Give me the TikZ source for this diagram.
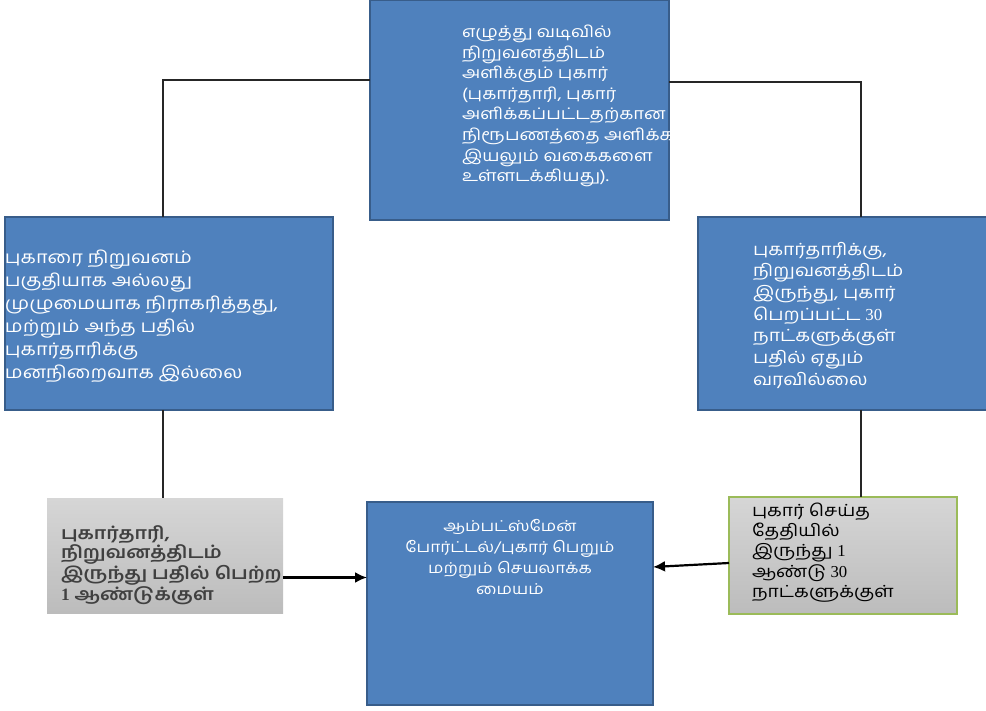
\documentclass[tikz,border=0pt]{standalone}
\usepackage{fontspec}
\usetikzlibrary{arrows.meta,calc}
\newfontfamily\ta[Script=Tamil,FakeStretch=1.15]{Hind Madurai}
\newfontfamily\ser{Liberation Serif}
\definecolor{boxblue}{HTML}{4F81BD}
\definecolor{boxedge}{HTML}{385D8A}
\definecolor{graytop}{HTML}{D6D6D6}
\definecolor{graybot}{HTML}{BCBCBC}
\definecolor{greenedge}{HTML}{9BBB59}
\definecolor{darktext}{HTML}{404040}
\tikzset{
  bluebox/.style={draw=boxedge, line width=1.5pt, fill=boxblue, inner sep=0pt, outer sep=0pt, anchor=north west},
  graybox/.style={top color=graytop, bottom color=graybot, inner sep=0pt, outer sep=0pt, anchor=north west},
  txt/.style={inner sep=0pt, outer sep=0pt, align=left, anchor=north west},
  conn/.style={line width=1.3pt, draw=black!85},
  arr/.style={line width=2.2pt, -{Latex[length=12pt,width=11pt]}},
}
\begin{document}
\begin{tikzpicture}[x=1pt,y=-1pt]
\useasboundingbox (0,0) rectangle (986,711);
% boxes
\node[bluebox, minimum width=299pt, minimum height=220pt] (top) at (370,0) {};
\node[bluebox, minimum width=328pt, minimum height=193pt] (lbox) at (5,217) {};
\node[bluebox, minimum width=300pt, minimum height=193pt] (rbox) at (698,217) {};
\node[graybox, minimum width=236pt, minimum height=115pt] (gl) at (47,498) {};
\node[bluebox, minimum width=286pt, minimum height=203pt] (cb) at (367,502) {};
\node[graybox, draw=greenedge, line width=1.3pt, minimum width=228pt, minimum height=117pt] (rg) at (729,497) {};
% texts
\begin{scope}
\clip (top.north west) rectangle (top.south east);
\node[txt, text=white, font={\ta\fontsize{16}{20.6}\selectfont}] (ttop) at (462,25) {எழுத்து வடிவில்\\நிறுவனத்திடம்\\அளிக்கும் புகார்\\(புகார்தாரி, புகார்\\அளிக்கப்பட்டதற்கான\\நிரூபணத்தை அளிக்க\\இயலும் வகைகளை\\உள்ளடக்கியது).};
\end{scope}
\node[txt, text=white, font={\ta\fontsize{17.3}{23}\selectfont}] (tl) at (5,250) {புகாரை நிறுவனம்\\பகுதியாக அல்லது\\முழுமையாக நிராகரித்தது,\\மற்றும் அந்த பதில்\\புகார்தாரிக்கு\\மனநிறைவாக இல்லை};
\node[txt, text=white, font={\ta\fontsize{16.8}{21.7}\selectfont}] (tr) at (753,242) {புகார்தாரிக்கு,\\நிறுவனத்திடம்\\இருந்து, புகார்\\பெறப்பட்ட {\ser 30}\\நாட்களுக்குள்\\பதில் ஏதும்\\வரவில்லை};
\node[txt, text=darktext, font={\ta\bfseries\fontsize{17.3}{18.5}\selectfont}] (tgl) at (61,526) {புகார்தாரி,\\நிறுவனத்திடம்\\இருந்து பதில் பெற்ற\\{\ser 1} ஆண்டுக்குள்};
\node[inner sep=0pt, align=center, anchor=north, text=white, font={\ta\fontsize{15}{21}\selectfont}] (tcb) at (510,519) {ஆம்பட்ஸ்மேன்\\போர்ட்டல்/புகார் பெறும்\\மற்றும் செயலாக்க\\மையம்};
\node[txt, text=black, font={\ta\fontsize{16.7}{20.2}\selectfont}] (trg) at (752,503) {புகார் செய்த\\தேதியில்\\இருந்து {\ser 1}\\ஆண்டு {\ser 30}\\நாட்களுக்குள்};
% connectors
\draw[conn] ([yshift=-80pt]top.north west) -| ([xshift=-6pt]lbox.north);
\draw[conn] ([yshift=-82pt]top.north east) -| ([xshift=13pt]rbox.north);
\draw[conn] ([xshift=-6pt]lbox.south) -- ([xshift=-6pt]lbox.south |- gl.north);
\draw[conn] ([xshift=13pt]rbox.south) -- ([xshift=18pt]rg.north);
\draw[arr] ([yshift=-22pt]gl.east) -- ([yshift=-22pt]gl.east -| cb.west);
\draw[arr] ([yshift=-7.5pt]rg.west) -- ([yshift=36.5pt]cb.east);
\end{tikzpicture}
\end{document}
